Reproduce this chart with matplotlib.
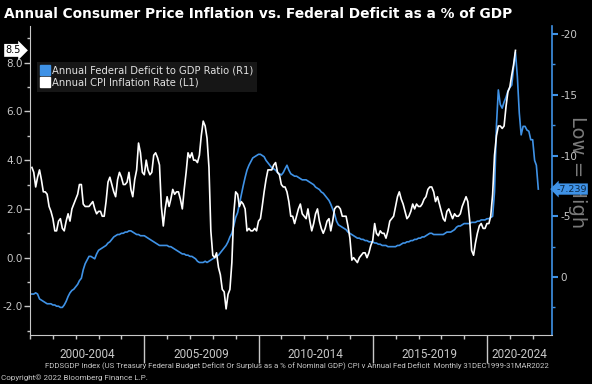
import pandas as pd
import matplotlib
matplotlib.use('Agg')
import matplotlib.pyplot as plt
import matplotlib.dates as mdates
import matplotlib.transforms as mtransforms
from matplotlib.lines import Line2D

plt.rcParams['font.family'] = ['DejaVu Sans']

# Federal surplus(+)/deficit(-) en % du PIB, mensuel, déc. 1999 -> mars 2022 (axe droit R1)
deficit_gdp = [1.4,
    1.4, 1.4, 1.3, 1.4, 1.8, 1.9, 2.0, 2.1, 2.2, 2.2, 2.2, 2.3,
    2.3, 2.4, 2.4, 2.5, 2.5, 2.3, 2.0, 1.6, 1.3, 1.1, 1.0, 0.8,
    0.6, 0.3, 0.1, -0.6, -1.1, -1.4, -1.7, -1.7, -1.6, -1.5, -1.9, -2.2,
    -2.3, -2.4, -2.5, -2.6, -2.8, -2.9, -3.1, -3.3, -3.4, -3.5, -3.5, -3.6,
    -3.6, -3.7, -3.7, -3.8, -3.8, -3.7, -3.6, -3.5, -3.5, -3.4, -3.4, -3.4,
    -3.3, -3.2, -3.1, -3.0, -2.9, -2.8, -2.7, -2.6, -2.6, -2.6, -2.6, -2.6,
    -2.5, -2.5, -2.4, -2.3, -2.2, -2.1, -2.0, -1.9, -1.9, -1.8, -1.8, -1.7,
    -1.7, -1.6, -1.5, -1.3, -1.2, -1.2, -1.2, -1.3, -1.2, -1.3, -1.4, -1.5,
    -1.6, -1.7, -1.8, -2.0, -2.2, -2.4, -2.6, -2.9, -3.3, -3.6, -4.2, -4.9,
    -5.3, -6.0, -6.8, -7.5, -8.2, -8.8, -9.2, -9.5, -9.8, -9.9, -10.0, -10.1,
    -10.1, -10.0, -9.9, -9.6, -9.4, -9.2, -9.0, -8.9, -8.8, -8.6, -8.5, -8.4,
    -8.6, -8.9, -9.2, -8.8, -8.5, -8.4, -8.3, -8.3, -8.2, -8.1, -8.0, -8.0,
    -8.0, -7.9, -7.8, -7.7, -7.6, -7.4, -7.3, -7.2, -7.0, -6.9, -6.7, -6.5,
    -6.3, -6.0, -5.6, -5.2, -4.6, -4.3, -4.2, -4.1, -4.0, -3.9, -3.7, -3.6,
    -3.5, -3.4, -3.3, -3.2, -3.2, -3.1, -3.1, -3.0, -3.0, -2.9, -2.9, -2.9,
    -2.8, -2.8, -2.7, -2.7, -2.6, -2.6, -2.6, -2.5, -2.5, -2.5, -2.5, -2.5,
    -2.6, -2.6, -2.7, -2.8, -2.8, -2.9, -2.9, -3.0, -3.0, -3.1, -3.1, -3.2,
    -3.2, -3.3, -3.3, -3.4, -3.5, -3.6, -3.6, -3.5, -3.5, -3.5, -3.5, -3.5,
    -3.5, -3.6, -3.7, -3.7, -3.7, -3.8, -3.9, -4.1, -4.2, -4.2, -4.3, -4.4,
    -4.4, -4.4, -4.4, -4.5, -4.5, -4.5, -4.6, -4.6, -4.7, -4.7, -4.7, -4.8,
    -4.8, -4.9, -5.0, -7.0, -12.5, -15.4, -14.2, -13.9, -14.4, -14.8, -15.3, -15.6,
    -15.8, -17.2, -18.5, -16.5, -13.5, -11.7, -12.4, -12.4, -12.1, -12.0, -11.3, -11.3,
    -9.6, -9.2, -7.239]

# Inflation CPI annuelle (axe gauche L1), telle que tracée sur le graphique
cpi = [
    3.7, 3.5, 2.9, 3.3, 3.6, 3.2, 2.7, 2.7, 2.6, 2.1, 1.9, 1.6,
    1.1, 1.1, 1.5, 1.6, 1.2, 1.1, 1.5, 1.8, 1.5, 2.0, 2.2, 2.4,
    2.6, 3.0, 3.0, 2.2, 2.1, 2.1, 2.1, 2.2, 2.3, 2.0, 1.8, 1.9,
    1.9, 1.7, 1.7, 2.3, 3.1, 3.3, 3.0, 2.7, 2.5, 3.2, 3.5, 3.3,
    3.0, 3.0, 3.1, 3.5, 2.8, 2.5, 3.2, 3.6, 4.7, 4.3, 3.5, 3.4,
    4.0, 3.6, 3.4, 3.5, 4.2, 4.3, 4.1, 3.8, 2.1, 1.3, 2.0, 2.5,
    2.1, 2.4, 2.8, 2.6, 2.7, 2.7, 2.4, 2.0, 2.8, 3.5, 4.3, 4.1,
    4.3, 4.0, 4.0, 3.9, 4.2, 5.0, 5.6, 5.4, 4.9, 3.7, 1.1, 0.1,
    0.0, 0.2, -0.4, -0.7, -1.3, -1.4, -2.1, -1.5, -1.3, -0.2, 1.8, 2.7,
    2.6, 2.1, 2.3, 2.2, 2.0, 1.1, 1.2, 1.1, 1.1, 1.2, 1.1, 1.5,
    1.6, 2.1, 2.7, 3.2, 3.6, 3.6, 3.6, 3.8, 3.9, 3.5, 3.4, 3.0,
    2.9, 2.9, 2.7, 2.3, 1.7, 1.7, 1.4, 1.7, 2.0, 2.2, 1.8, 1.7,
    1.6, 2.0, 1.5, 1.1, 1.4, 1.8, 2.0, 1.5, 1.2, 1.0, 1.2, 1.5,
    1.6, 1.1, 1.5, 2.0, 2.1, 2.1, 2.0, 1.7, 1.7, 1.7, 1.3, 0.8,
    -0.1, 0.0, -0.1, -0.2, 0.0, 0.1, 0.2, 0.2, 0.0, 0.2, 0.5, 0.7,
    1.4, 1.0, 0.9, 1.1, 1.0, 1.0, 0.8, 1.1, 1.5, 1.6, 1.7, 2.1,
    2.5, 2.7, 2.4, 2.2, 1.9, 1.6, 1.7, 1.9, 2.2, 2.0, 2.2, 2.1,
    2.1, 2.2, 2.4, 2.5, 2.8, 2.9, 2.9, 2.7, 2.3, 2.5, 2.2, 1.9,
    1.6, 1.5, 1.9, 2.0, 1.8, 1.6, 1.8, 1.7, 1.7, 1.8, 2.1, 2.3,
    2.5, 2.3, 1.5, 0.3, 0.1, 0.6, 1.0, 1.3, 1.4, 1.2, 1.2, 1.4,
    1.4, 1.7, 2.6, 4.2, 5.0, 5.4, 5.4, 5.3, 5.4, 6.2, 6.8, 7.0,
    7.5, 7.9, 8.5]

periodes = ['2000-2004', '2005-2009', '2010-2014', '2015-2019', '2020-2024']
debut_periodes = [2000, 2005, 2010, 2015, 2020]

BLEU = '#3f92e6'
GRIS = '#c8c8c8'

dates_deficit = pd.date_range('1999-12-01', periods=len(deficit_gdp), freq='MS') + pd.offsets.MonthEnd(0)
dates_cpi = pd.date_range('2000-01-01', periods=len(cpi), freq='MS') + pd.offsets.MonthEnd(0)

fig = plt.figure(figsize=(5.92, 3.84), dpi=100, facecolor='black')
ax = fig.add_axes([30 / 592, 1 - 335 / 384, 522 / 592, 309 / 384])
ax2 = ax.twinx()
ax.set_zorder(ax2.get_zorder() + 1)
ax.patch.set_visible(False)
ax2.set_facecolor('black')

ax2.plot(dates_deficit, deficit_gdp, color=BLEU, lw=1.2)
ax.plot(dates_cpi, cpi, color='white', lw=1.2)

xmin, xmax = pd.Timestamp('1999-12-31'), pd.Timestamp('2022-11-05')
ax.set_xlim(xmin, xmax)
ax.set_ylim(-3.17, 9.5)
ax2.set_ylim(4.77, -20.66)

for a in (ax, ax2):
    for s in a.spines.values():
        s.set_visible(False)
ax.spines['left'].set_visible(True)
ax.spines['left'].set_color(GRIS)
ax.spines['bottom'].set_visible(True)
ax.spines['bottom'].set_color(GRIS)
ax2.spines['right'].set_visible(True)
ax2.spines['right'].set_color(BLEU)
ax2.spines['right'].set_linewidth(1.2)

# axe gauche
ax.set_yticks([-2, 0, 2, 4, 6, 8])
ax.set_yticklabels([f'{v:.1f}' for v in [-2, 0, 2, 4, 6, 8]])
ax.set_yticks([-3, -1, 1, 3, 5, 7, 9], minor=True)
ax.tick_params(axis='y', which='major', colors=GRIS, labelsize=7.5, length=4, width=1, pad=1)
ax.tick_params(axis='y', which='minor', colors=GRIS, length=2, width=1)

# axe droit
ax2.set_yticks([0, -5, -10, -15, -20])
ax2.set_yticklabels(['0', '-5', '-10', '-15', '-20'])
ax2.set_yticks([2.5, -2.5, -7.5, -12.5, -17.5], minor=True)
ax2.tick_params(axis='y', which='major', colors=BLEU, labelcolor=GRIS, labelsize=7.5, length=4, width=1.5, pad=2)
ax2.tick_params(axis='y', which='minor', colors=BLEU, length=2, width=1)

# axe x : petits traits chaque année, grands séparateurs tous les 5 ans
ax.set_xticks([mdates.date2num(pd.Timestamp(f'{a}-01-01')) for a in debut_periodes[1:]])
ax.xaxis.set_minor_locator(mdates.YearLocator(1))
ax.tick_params(axis='x', which='major', colors=GRIS, length=20, width=1, labelbottom=False)
ax.tick_params(axis='x', which='minor', colors=GRIS, length=3, width=1)

trans = mtransforms.blended_transform_factory(ax.transData, ax.transAxes)
for nom, a in zip(periodes, debut_periodes):
    g = pd.Timestamp(f'{a}-01-01')
    d = min(pd.Timestamp(f'{a + 5}-01-01'), xmax)
    milieu = g + (d - g) / 2
    ax.text(milieu, -0.062, nom, transform=trans, ha='center', va='center',
            color=GRIS, fontsize=8.5, family='Roboto')

# étiquettes des dernières valeurs
ax.annotate(f'{cpi[-1]:.1f}', xy=(0, cpi[-1]), xycoords=('axes fraction', 'data'),
            xytext=(-12, 0), textcoords='offset points', ha='center', va='center',
            fontsize=7, color='black',
            bbox=dict(boxstyle='rarrow,pad=0.15', fc='white', ec='none'))
ax2.annotate(f'{deficit_gdp[-1]:.3f}', xy=(1, deficit_gdp[-1]), xycoords=('axes fraction', 'data'),
             xytext=(14, 0), textcoords='offset points', ha='center', va='center',
             fontsize=6.8, color='#0b2744', zorder=5,
             bbox=dict(boxstyle='larrow,pad=0.12', fc=BLEU, ec='none'))

# texte en filigrane, derrière les étiquettes comme sur l'original
ax2.text(578 / 592, 1 - 172 / 384, 'Low = High', rotation=270, ha='center', va='center',
         color='#7a7a7a', fontsize=14, transform=fig.transFigure, clip_on=False, zorder=0.5)

# légende
poignees = [Line2D([], [], marker='s', ls='none', color=BLEU, markersize=7),
            Line2D([], [], marker='s', ls='none', color='white', markersize=7)]
leg = ax.legend(poignees, ['Annual Federal Deficit to GDP Ratio (R1)', 'Annual CPI Inflation Rate (L1)'],
                loc='upper left', bbox_to_anchor=(0.013, 0.885), frameon=True, facecolor='#161616',
                edgecolor='none', framealpha=1, fancybox=False, fontsize=7.2, labelcolor='#e0e0e0',
                handlelength=0.8, handletextpad=0.3, borderpad=0.4, labelspacing=0.2, borderaxespad=0)

fig.text(4 / 592, 1 - 14 / 384, 'Annual Consumer Price Inflation vs. Federal Deficit as a % of GDP',
         ha='left', va='center', color='white', fontsize=9.9, weight='bold')
fig.text(297 / 592, 1 - 366 / 384,
         'FDDSGDP Index (US Treasury Federal Budget Deficit Or Surplus as a % of Nominal GDP) CPI v Annual Fed Deficit  Monthly 31DEC1999-31MAR2022',
         ha='center', va='center', color=GRIS, fontsize=5.6, family='Roboto')
fig.text(1 / 592, 1 - 378 / 384, 'Copyright\u00a9 2022 Bloomberg Finance L.P.',
         ha='left', va='center', color=GRIS, fontsize=5.8, family='Roboto')

fig.savefig('out.png', dpi=100, facecolor='black')
